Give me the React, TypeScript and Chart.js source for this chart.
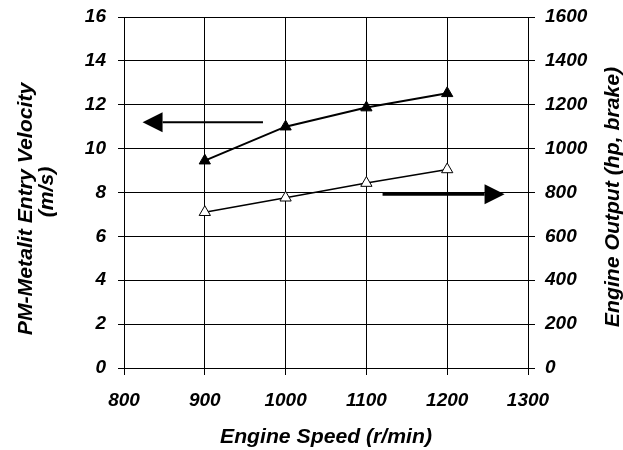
import React, { useEffect, useRef } from "react";
import { Chart, registerables } from "chart.js";

Chart.register(...registerables);

// ---- data ----
const engineSpeed = [900, 1000, 1100, 1200];
const entryVelocity = [9.45, 11.0, 11.87, 12.52]; // m/s, left axis (filled triangles)
const engineOutput = [710, 776, 843, 905]; // hp brake, right axis (open triangles)

const xRange = [800, 1300];
const xStep = 100;
const velocityRange = [0, 16];
const velocityStep = 2;
const outputRange = [0, 1600];
const outputStep = 200;

// arrows indicating which axis each curve belongs to (data units)
const velocityArrowX = [972, 823]; // from -> tip
const velocityArrowY = 11.2;
const outputArrowX = [1120, 1271]; // from -> tip
const outputArrowY = 792;

const xTitle = "Engine Speed (r/min)";
const leftTitle = ["PM-Metalit Entry Velocity", "(m/s)"];
const rightTitle = "Engine Output (hp, brake)";

const FAMILY = "'Liberation Sans', Arial, sans-serif";

const annotPlugin = {
  id: "annot",
  afterDraw(chart: any) {
    const ctx = chart.ctx as CanvasRenderingContext2D;
    const xs = chart.scales.x;
    const yl = chart.scales.y;
    const yr = chart.scales.y1;

    const drawArrow = (x0: number, x1: number, y: number, w: number) => {
      const dir = Math.sign(x1 - x0);
      const headLen = 20;
      const headHalf = 10;
      ctx.save();
      ctx.strokeStyle = "#000";
      ctx.fillStyle = "#000";
      ctx.lineWidth = w;
      ctx.beginPath();
      ctx.moveTo(x0, y);
      ctx.lineTo(x1 - dir * headLen, y);
      ctx.stroke();
      ctx.beginPath();
      ctx.moveTo(x1, y);
      ctx.lineTo(x1 - dir * headLen, y - headHalf);
      ctx.lineTo(x1 - dir * headLen, y + headHalf);
      ctx.closePath();
      ctx.fill();
      ctx.restore();
    };

    drawArrow(
      xs.getPixelForValue(velocityArrowX[0]),
      xs.getPixelForValue(velocityArrowX[1]),
      yl.getPixelForValue(velocityArrowY),
      2
    );
    drawArrow(
      xs.getPixelForValue(outputArrowX[0]),
      xs.getPixelForValue(outputArrowX[1]),
      yr.getPixelForValue(outputArrowY),
      3
    );

    // titles
    const stretch = 1.06;
    ctx.save();
    ctx.fillStyle = "#000";
    ctx.font = `italic bold 20px ${FAMILY}`;
    ctx.textAlign = "center";
    ctx.textBaseline = "alphabetic";

    // x title
    ctx.save();
    ctx.translate((chart.chartArea.left + chart.chartArea.right) / 2, 443);
    ctx.scale(stretch, 1);
    ctx.fillText(xTitle, 0, 0);
    ctx.restore();

    // left title (two lines)
    ctx.save();
    ctx.translate(32, 209);
    ctx.rotate(-Math.PI / 2);
    ctx.scale(stretch, 1);
    ctx.fillText(leftTitle[0], 0, 0);
    ctx.restore();
    ctx.save();
    ctx.translate(53, 192);
    ctx.rotate(-Math.PI / 2);
    ctx.scale(stretch, 1);
    ctx.fillText(leftTitle[1], 0, 0);
    ctx.restore();

    // right title
    ctx.save();
    ctx.translate(619, 197);
    ctx.rotate(-Math.PI / 2);
    ctx.scale(stretch, 1);
    ctx.fillText(rightTitle, 0, 0);
    ctx.restore();

    ctx.restore();
  },
};

export default function App() {
  const ref = useRef<HTMLCanvasElement | null>(null);

  useEffect(() => {
    document.body.style.margin = "0";
    const canvas = ref.current;
    if (!canvas) return;
    const tickFont = { family: FAMILY, size: 19, style: "italic" as const, weight: "bold" as const };
    const plain = (v: any) => String(v);
    const noPad = (s: any) => {
      s.paddingTop = 0;
      s.paddingBottom = 0;
      s.paddingLeft = 0;
      s.paddingRight = 0;
    };

    const chart = new Chart(canvas, {
      type: "line",
      data: {
        datasets: [
          {
            label: "PM-Metalit Entry Velocity",
            data: engineSpeed.map((x, i) => ({ x, y: entryVelocity[i] })),
            yAxisID: "y",
            borderColor: "#000",
            borderWidth: 2,
            pointStyle: "triangle",
            pointRadius: 6.5,
            pointBackgroundColor: "#000",
            pointBorderColor: "#000",
            pointBorderWidth: 1,
            tension: 0,
            fill: false,
          },
          {
            label: "Engine Output",
            data: engineSpeed.map((x, i) => ({ x, y: engineOutput[i] })),
            yAxisID: "y1",
            borderColor: "#000",
            borderWidth: 1.5,
            pointStyle: "triangle",
            pointRadius: 6.5,
            pointBackgroundColor: "#fff",
            pointBorderColor: "#000",
            pointBorderWidth: 1,
            tension: 0,
            fill: false,
          },
        ],
      },
      options: {
        responsive: false,
        animation: false,
        layout: { padding: { top: 17, left: 0, right: 0, bottom: 0 } },
        plugins: {
          legend: { display: false },
          tooltip: { enabled: false },
        },
        scales: {
          x: {
            type: "linear",
            min: xRange[0],
            max: xRange[1],
            ticks: { stepSize: xStep, color: "#000", font: tickFont, padding: 14, maxRotation: 0, callback: plain },
            grid: { color: "#000", lineWidth: 1, tickLength: 7 },
            border: { display: true, color: "#000", width: 1 },
            afterFit: (s: any) => {
              s.height = 82;
              noPad(s);
            },
          },
          y: {
            type: "linear",
            position: "left",
            min: velocityRange[0],
            max: velocityRange[1],
            ticks: { stepSize: velocityStep, color: "#000", font: tickFont, padding: 12, callback: plain },
            grid: { color: "#000", lineWidth: 1, tickLength: 6 },
            border: { display: true, color: "#000", width: 1 },
            afterFit: (s: any) => {
              s.width = 124;
              noPad(s);
            },
          },
          y1: {
            type: "linear",
            position: "right",
            min: outputRange[0],
            max: outputRange[1],
            ticks: { stepSize: outputStep, color: "#000", font: tickFont, padding: 10, callback: plain },
            grid: { color: "#000", lineWidth: 1, tickLength: 7, drawOnChartArea: false },
            border: { display: true, color: "#000", width: 1 },
            afterFit: (s: any) => {
              s.width = 95;
              noPad(s);
            },
          },
        },
      },
      plugins: [annotPlugin],
    });
    return () => chart.destroy();
  }, []);

  return (
    <div style={{ position: "fixed", left: 0, top: 0, width: 623, height: 450, overflow: "hidden", background: "#fff" }}>
      <canvas ref={ref} width={623} height={450} style={{ width: 623, height: 450, display: "block" }} />
    </div>
  );
}
